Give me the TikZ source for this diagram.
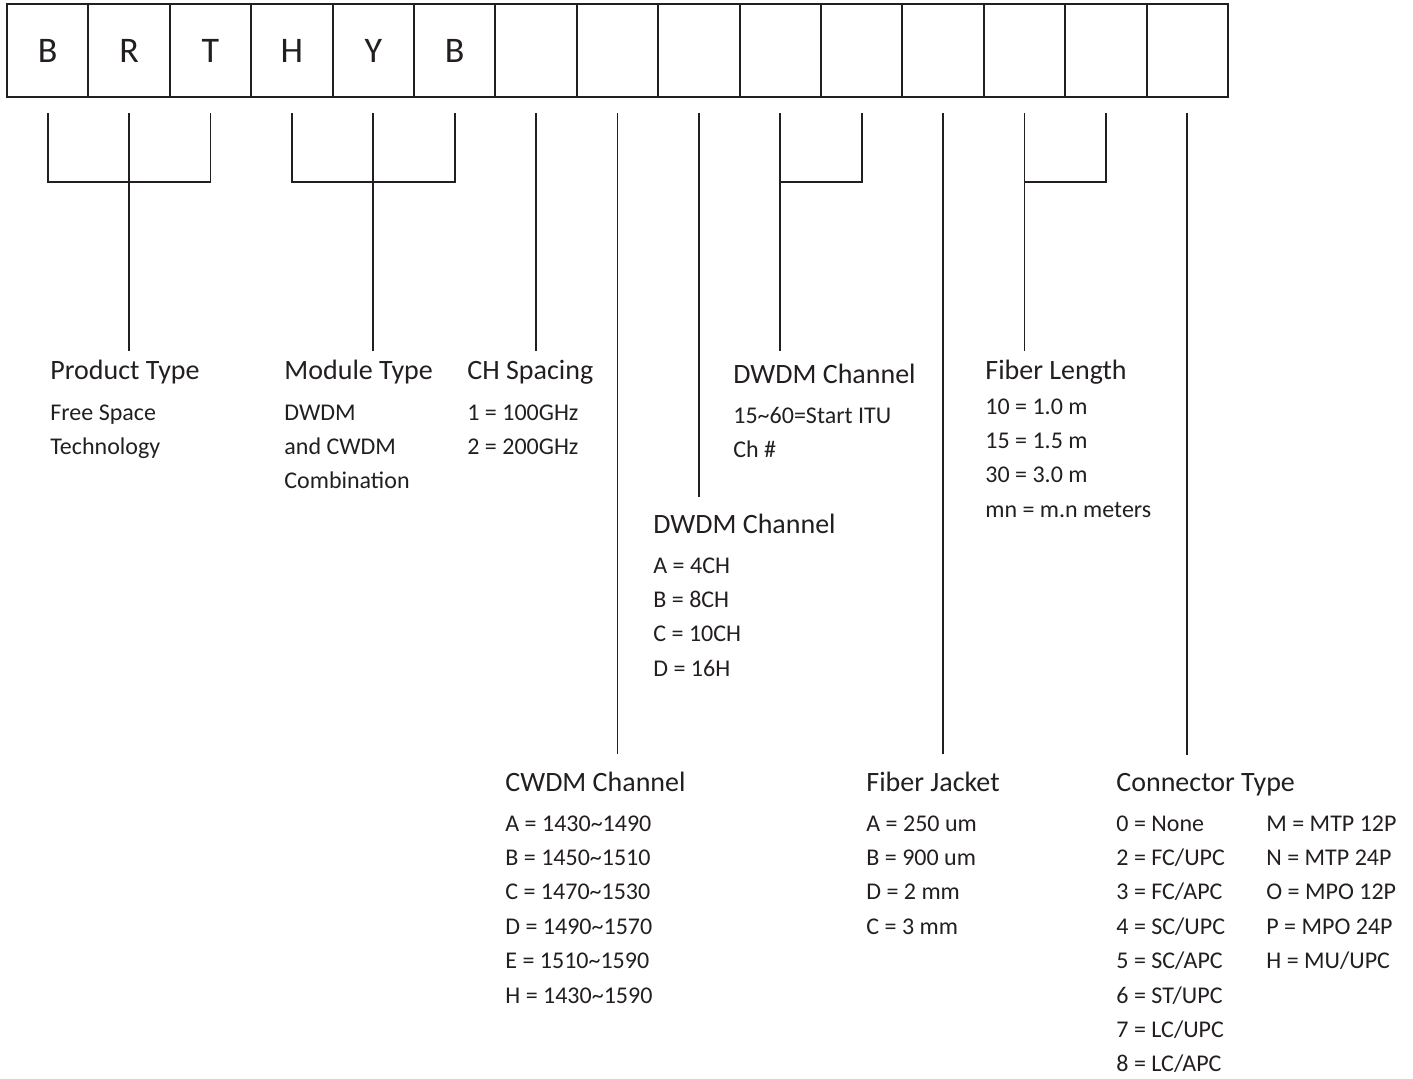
\documentclass[tikz,border=0pt]{standalone}
\usepackage{fontspec}
\setmainfont{Carlito}
\usepackage{tikz}
\usetikzlibrary{positioning}
\usetikzlibrary{calc}
\definecolor{ink}{HTML}{231F20}

\begin{document}
\begin{tikzpicture}[
    x=0.5pt, y=0.5pt,   % one unit = one pixel of the layout
    node distance=0pt,  % code boxes sit edge to edge
    ]
% -------------------------------------------------
\tikzset{
  box/.style={draw=ink, line width=1pt, minimum width=40.7pt, minimum height=46.5pt, inner sep=0pt, outer sep=0pt, font=\fontsize{18}{18}\selectfont, text=ink},
  head/.style={anchor=base west, inner xsep=0pt, inner ysep=3pt, font=\fontsize{14}{16}\selectfont, text=ink},
  item/.style={anchor=base west, inner sep=0pt, font=\fontsize{12}{14}\selectfont, text=ink},
  link/.style={draw=ink, line width=0.9pt}
}
\useasboundingbox (0,0) rectangle (1413,-1078);
% code boxes
\node [box] (c1) at (47.7,-50.5) {B};
\foreach \l [count=\i from 2] in {R,T,H,Y,B,{},{},{},{},{},{},{},{},{}} {
  \pgfmathtruncatemacro\p{\i-1}
  \node [box, right=of c\p] (c\i) {\l};
}
\foreach \i in {1,...,15}
  \coordinate (t\i) at ($(c\i.south)+(0,-16)$);
% field headings
\node [head] (pt) at (50,-379) {Product Type};
\node [head] (mt) at (284,-379) {Module Type};
\node [head] (cs) at (467,-379) {CH Spacing};
\node [head] (dt) at (733,-383) {DWDM Channel};
\node [head] (fl) at (985,-379) {Fiber Length};
\node [head] (dm) at (653,-533) {DWDM Channel};
\node [head] (cw) at (505,-791) {CWDM Channel};
\node [head] (fj) at (866,-791) {Fiber Jacket};
\node [head] (ct) at (1116,-791) {Connector Type};
% field values
\foreach \t [count=\i] in {Free Space, Technology}
  \node [item] (pt-\i) at ($(pt.base west)+(0,{-41-34.4*(\i-1)})$) {\t};
\foreach \t [count=\i] in {DWDM, and CWDM, Combination}
  \node [item] (mt-\i) at ($(mt.base west)+(0,{-41-34.4*(\i-1)})$) {\t};
\foreach \t [count=\i] in {1 = 100GHz, 2 = 200GHz}
  \node [item] (cs-\i) at ($(cs.base west)+(0,{-41-34.4*(\i-1)})$) {\t};
\foreach \t [count=\i] in {15\textasciitilde60=Start ITU, Ch \#}
  \node [item] (dt-\i) at ($(dt.base west)+(0,{-40-34.4*(\i-1)})$) {\t};
\foreach \t [count=\i] in {10 = 1.0 m, 15 = 1.5 m, 30 = 3.0 m, mn = m.n meters}
  \node [item] (fl-\i) at ($(fl.base west)+(0,{-35-34.4*(\i-1)})$) {\t};
\foreach \t [count=\i] in {A = 4CH, B = 8CH, C = 10CH, D = 16H}
  \node [item] (dm-\i) at ($(dm.base west)+(0,{-40-34.4*(\i-1)})$) {\t};
\foreach \t [count=\i] in {A = 1430\textasciitilde1490, B = 1450\textasciitilde1510, C = 1470\textasciitilde1530, D = 1490\textasciitilde1570, E = 1510\textasciitilde1590, H = 1430\textasciitilde1590}
  \node [item] (cw-\i) at ($(cw.base west)+(0,{-40-34.4*(\i-1)})$) {\t};
\foreach \t [count=\i] in {A = 250 um, B = 900 um, D = 2 mm, C = 3 mm}
  \node [item] (fj-\i) at ($(fj.base west)+(0,{-40-34.4*(\i-1)})$) {\t};
\foreach \t [count=\i] in {0 = None, 2 = FC/UPC, 3 = FC/APC, 4 = SC/UPC, 5 = SC/APC, 6 = ST/UPC, 7 = LC/UPC, 8 = LC/APC}
  \node [item] (ct-\i) at ($(ct.base west)+(0,{-40-34.4*(\i-1)})$) {\t};
\foreach \t [count=\i] in {M = MTP 12P, N = MTP 24P, O = MPO 12P, P = MPO 24P, H = MU/UPC}
  \node [item] (cm-\i) at ($(ct.base west)+(150,{-40-34.4*(\i-1)})$) {\t};
% leader lines
\draw [link] (t1) -- ++(0,-69) -| (t3);
\draw [link] (t2) -- ($(t2 |- pt.north)+(0,2)$);
\draw [link] (t4) -- ++(0,-69) -| (t6);
\draw [link] (t5) -- ($(t5 |- mt.north)+(0,2)$);
\draw [link] (t7) -- ($(t7 |- cs.north)+(0,2)$);
\draw [link] (t8) -- ($(t8 |- cw.north)+(0,11)$);
\draw [link] (t9) -- ($(t9 |- dm.north)+(0,10)$);
\draw [link] (t10) -- ++(0,-69) -| (t11);
\draw [link] (t10) -- ($(t10 |- dt.north)+(0,6)$);
\draw [link] (t12) -- ($(t12 |- fj.north)+(0,11)$);
\draw [link] (t13) -- ++(0,-69) -| (t14);
\draw [link] (t13) -- ($(t13 |- fl.north)+(0,2)$);
\draw [link] (t15) -- ($(t15 |- ct.north)+(0,11)$);
\end{tikzpicture}
\end{document}
